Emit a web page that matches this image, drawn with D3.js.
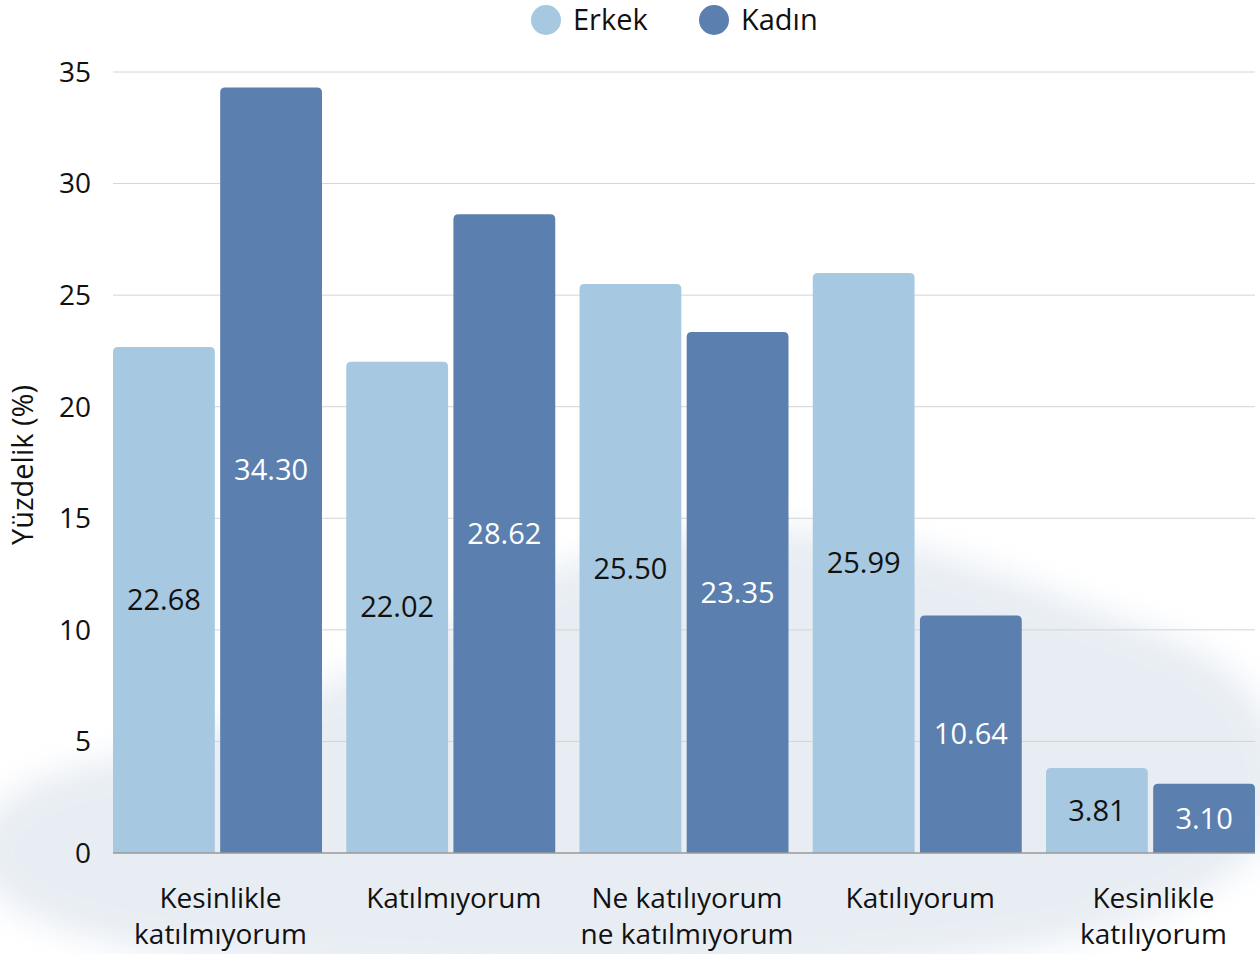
<!DOCTYPE html>
<html>
<head>
<meta charset="utf-8">
<script src="https://cdn.jsdelivr.net/npm/d3@7"></script>
<style>
  body { margin: 0; background: #fff; }
  svg { font-family: "Open Sans", "Noto Sans", sans-serif; }
</style>
</head>
<body>
<div id="chart"></div>
<script>
// data
const categories = ["Kesinlikle katılmıyorum", "Katılmıyorum", "Ne katılıyorum ne katılmıyorum", "Katılıyorum", "Kesinlikle katılıyorum"];
const categoryLines = [["Kesinlikle", "katılmıyorum"], ["Katılmıyorum"], ["Ne katılıyorum", "ne katılmıyorum"], ["Katılıyorum"], ["Kesinlikle", "katılıyorum"]];
const seriesNames = ["Erkek", "Kadın"];
const erkek = [22.68, 22.02, 25.50, 25.99, 3.81];
const kadin = [34.30, 28.62, 23.35, 10.64, 3.10];
const yTicks = [0, 5, 10, 15, 20, 25, 30, 35];

const colors = {Erkek: "#a6c8e0", "Kadın": "#5b7faf"};
const labelColors = {Erkek: "#111", "Kadın": "#fff"};

const width = 1260, height = 954;
const svg = d3.select("#chart").append("svg").attr("width", width).attr("height", height);

// soft watercolor blob in the background
const defs = svg.append("defs");
defs.append("filter").attr("id", "blur").append("feGaussianBlur").attr("stdDeviation", 16);
const blob = d3.line().curve(d3.curveBasisClosed);
svg.append("path")
  .attr("d", blob([[-40, 790], [120, 760], [300, 700], [460, 620], [560, 560], [700, 525], [860, 530], [1000, 570], [1120, 620], [1300, 680], [1300, 990], [-40, 990]]))
  .attr("fill", "#dfe6ef").attr("opacity", 0.7).attr("filter", "url(#blur)");

const y = d3.scaleLinear().domain([0, 35]).range([853, 72]);
const x0 = d3.scaleBand().domain(categories).range([113, 1255]).paddingInner(0.104).paddingOuter(0);
const x1 = d3.scaleBand().domain(seriesNames).range([0, x0.bandwidth()]).paddingInner(0.05);

// grid
svg.append("g").selectAll("line").data(yTicks.filter(d => d > 0)).join("line")
  .attr("x1", 113).attr("x2", 1255)
  .attr("y1", d => y(d)).attr("y2", d => y(d))
  .attr("stroke", "#d4d4d4").attr("stroke-width", 1);

// y tick labels
svg.append("g").selectAll("text").data(yTicks).join("text")
  .attr("x", 91).attr("y", d => y(d)).attr("dy", "0.35em")
  .attr("text-anchor", "end").attr("font-size", 28).attr("fill", "#111")
  .text(d => d);

svg.append("text")
  .attr("transform", "translate(33,465) rotate(-90)")
  .attr("text-anchor", "middle").attr("font-size", 29).attr("fill", "#111")
  .text("Yüzdelik (%)");

// bars
const rows = categories.map((c, i) => ({cat: c, values: [{s: "Erkek", v: erkek[i]}, {s: "Kadın", v: kadin[i]}]}));
const groups = svg.append("g").selectAll("g").data(rows).join("g")
  .attr("transform", d => `translate(${x0(d.cat)},0)`);

function topRounded(xp, yp, w, h, r) {
  r = Math.min(r, h);
  return `M${xp},${yp + h}V${yp + r}Q${xp},${yp} ${xp + r},${yp}H${xp + w - r}Q${xp + w},${yp} ${xp + w},${yp + r}V${yp + h}Z`;
}

groups.selectAll("path").data(d => d.values).join("path")
  .attr("d", d => topRounded(x1(d.s), y(d.v), x1.bandwidth(), y(0) - y(d.v), 5))
  .attr("fill", d => colors[d.s]);

groups.selectAll("text").data(d => d.values).join("text")
  .attr("x", d => x1(d.s) + x1.bandwidth() / 2)
  .attr("y", d => (y(d.v) + y(0)) / 2).attr("dy", "0.35em")
  .attr("text-anchor", "middle").attr("font-size", 29)
  .attr("fill", d => labelColors[d.s])
  .text(d => d.v.toFixed(2));

// baseline
svg.append("line").attr("x1", 113).attr("x2", 1255).attr("y1", y(0)).attr("y2", y(0))
  .attr("stroke", "#999").attr("stroke-width", 1.5);

// x labels
const xl = svg.append("g").selectAll("text").data(categories).join("text")
  .attr("text-anchor", "middle").attr("font-size", 28).attr("fill", "#111")
  .attr("transform", d => `translate(${x0(d) + x0.bandwidth() / 2 + 3},908)`);
xl.selectAll("tspan").data((d, i) => categoryLines[i]).join("tspan")
  .attr("x", 0).attr("y", (d, i) => i * 36).text(d => d);

// legend
const legend = svg.append("g").selectAll("g").data(seriesNames).join("g")
  .attr("transform", (d, i) => `translate(${546 + i * 168},20)`);
legend.append("circle").attr("r", 15).attr("fill", d => colors[d]);
legend.append("text").attr("x", 27).attr("dy", "0.35em").attr("font-size", 29).attr("fill", "#111").text(d => d);
</script>
</body>
</html>
